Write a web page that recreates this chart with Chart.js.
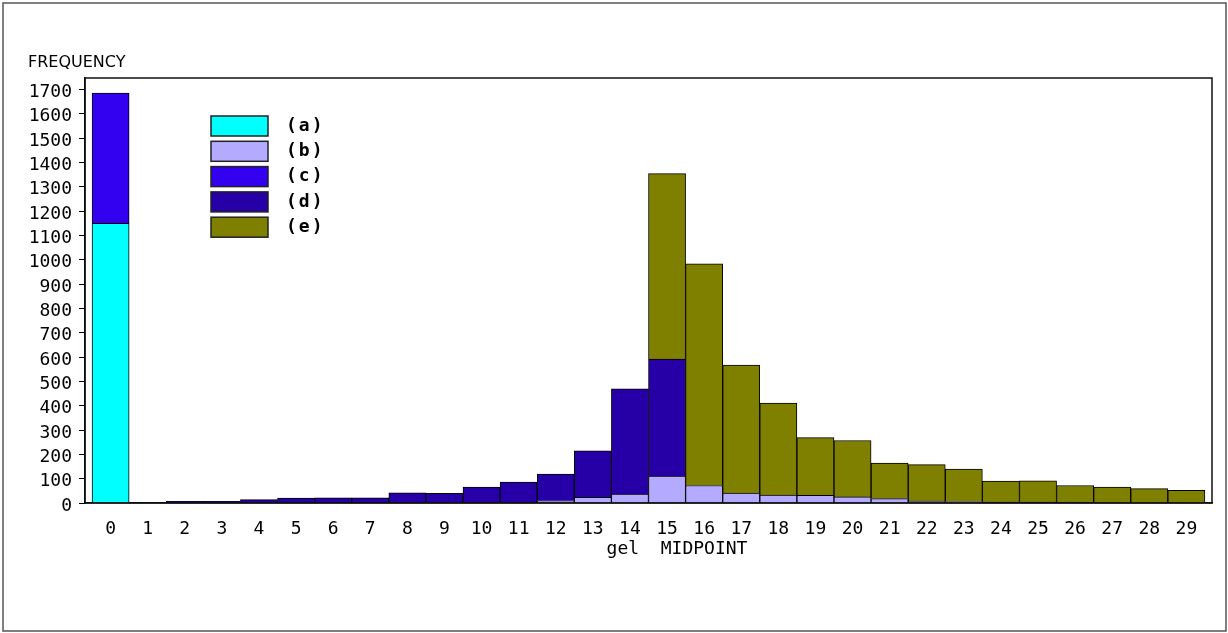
<!DOCTYPE html>
<html>
<head>
<meta charset="utf-8">
<script src="https://cdn.jsdelivr.net/npm/chart.js@4/dist/chart.umd.min.js"></script>
<style>
  body { margin: 0; background: #fff; }
  canvas { display: block; }
</style>
</head>
<body>
<canvas id="histo" width="1228" height="633"></canvas>
<script>
// gel midpoints (x categories)
const midpoints = [0, 1, 2, 3, 4, 5, 6, 7, 8, 9, 10, 11, 12, 13, 14, 15, 16, 17, 18, 19, 20, 21, 22, 23, 24, 25, 26, 27, 28, 29];

// frequencies per group
const serieA = [1150, null, null, null, null, null, null, null, null, null, null, null, null, null, null, null, null, null, null, null, null, null, null, null, null, null, null, null, null, null];
const serieB = [null, null, null, null, null, null, null, null, null, null, null, null, 9, 23, 37, 111, 72, 41, 33, 32, 25, 18, 8, 6, null, null, null, null, null, null];
const serieC = [535, null, null, null, null, null, null, null, null, null, null, null, null, null, null, null, null, null, null, null, null, null, null, null, null, null, null, null, null, null];
const serieD = [null, null, 7, 7, 14, 20, 21, 21, 42, 40, 65, 86, 110, 191, 432, 481, null, null, null, null, null, null, null, null, 4, 4, 3, null, null, null];
const serieE = [null, null, null, null, null, null, null, null, null, null, null, null, null, null, null, 762, 911, 526, 378, 237, 232, 146, 150, 133, 86, 87, 69, 65, 59, 52];

const legendLabels = ["(a)", "(b)", "(c)", "(d)", "(e)"];
const yTicks = [0, 100, 200, 300, 400, 500, 600, 700, 800, 900, 1000, 1100, 1200, 1300, 1400, 1500, 1600, 1700];

const couleurs = ["#00FFFF", "#B4AAFF", "#3300F0", "#2600A6", "#808000"];

function pts(values) {
    return midpoints.map((m, i) => ({ x: m, y: values[i] }));
}

const series = [serieA, serieB, serieC, serieD, serieE];

// frame, titles and legend
const decor = {
    id: "decor",
    afterDraw(chart) {
        const ctx = chart.ctx;
        const a = chart.chartArea;
        ctx.save();
        // outer border
        ctx.strokeStyle = "#555";
        ctx.lineWidth = 1.5;
        ctx.strokeRect(3, 3, 1223, 628);
        // plot frame
        ctx.strokeStyle = "#111";
        ctx.lineWidth = 1.5;
        ctx.strokeRect(a.left, a.top, a.right - a.left, a.bottom - a.top);

        ctx.fillStyle = "#000";
        ctx.textBaseline = "middle";
        ctx.font = "16px 'DejaVu Sans'";
        ctx.textAlign = "left";
        ctx.fillText("FREQUENCY", 28, 63);

        ctx.font = "18px 'DejaVu Sans Mono'";
        ctx.textAlign = "center";
        ctx.fillText("gel  MIDPOINT", 677, 549);

        // legend
        ctx.font = "bold 18px 'DejaVu Sans Mono'";
        ctx.textAlign = "left";
        ctx.letterSpacing = "2px";
        chart.data.datasets.forEach((ds, i) => {
            const y = 116 + i * 25.3;
            ctx.fillStyle = ds.backgroundColor;
            ctx.fillRect(211, y, 57, 20);
            ctx.strokeStyle = "#222";
            ctx.lineWidth = 1.5;
            ctx.strokeRect(211, y, 57, 20);
            ctx.fillStyle = "#000";
            ctx.fillText(legendLabels[i], 286, y + 10);
        });
        ctx.restore();
    }
};

Chart.defaults.font.family = "'DejaVu Sans Mono'";
Chart.defaults.color = "#000";

const histo = new Chart(document.getElementById("histo"), {
    type: "bar",
    data: {
        datasets: series.map((s, i) => ({
            label: legendLabels[i],
            data: pts(s),
            backgroundColor: couleurs[i],
            borderColor: "#000",
            borderWidth: 1,
            barPercentage: 1,
            categoryPercentage: 1
        }))
    },
    options: {
        responsive: false,
        animation: false,
        layout: { padding: { top: 78, right: 16, bottom: 0, left: 0 } },
        plugins: {
            legend: { display: false },
            tooltip: { enabled: false }
        },
        scales: {
            x: {
                type: "linear",
                stacked: true,
                offset: false,
                min: -0.69,
                max: 29.69,
                afterFit: s => { s.height = 130; },
                grid: { display: false },
                border: { display: true, color: "#000", width: 1.5 },
                ticks: {
                    stepSize: 1,
                    includeBounds: false,
                    autoSkip: false,
                    maxRotation: 0,
                    padding: 8,
                    font: { size: 18 },
                    callback: v => midpoints.includes(v) ? String(v) : ""
                }
            },
            y: {
                stacked: true,
                min: 0,
                max: 1747,
                afterFit: s => { s.width = 85; },
                grid: { drawOnChartArea: false, drawTicks: true, tickLength: 6, color: "#000" },
                border: { display: true, color: "#000", width: 1.5 },
                ticks: {
                    stepSize: 50,
                    includeBounds: false,
                    padding: 7,
                    labelOffset: 3,
                    font: { size: 18 },
                    callback: v => yTicks.includes(v) ? String(v) : ""
                }
            }
        }
    },
    plugins: [decor]
});
</script>
</body>
</html>
